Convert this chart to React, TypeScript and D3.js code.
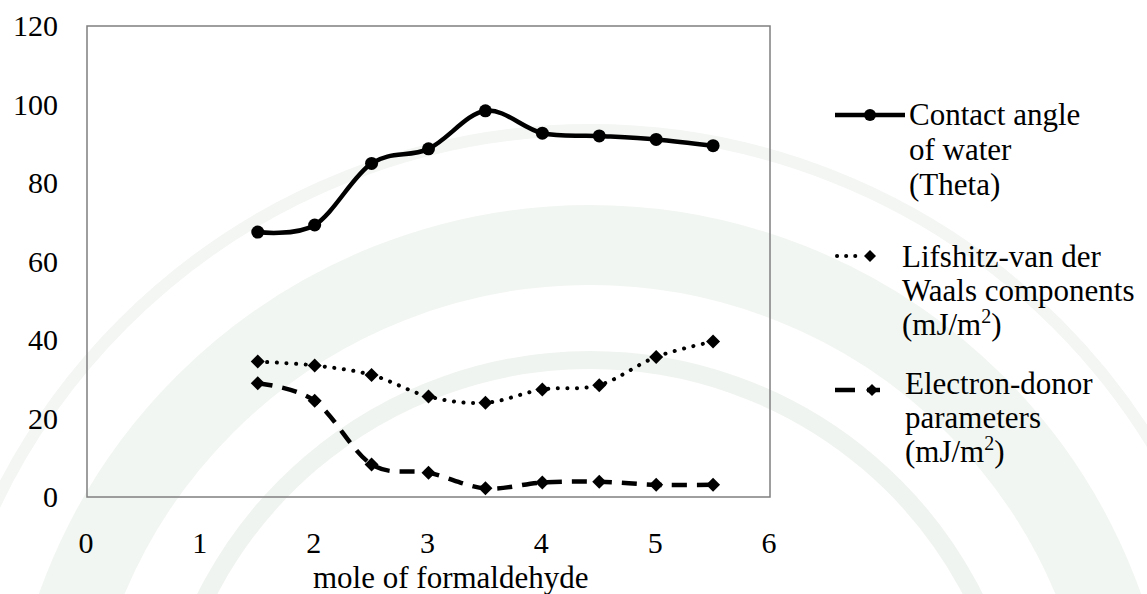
import React from "react";
import * as d3 from "d3";

const xValues = [1.5, 2, 2.5, 3, 3.5, 4, 4.5, 5, 5.5];
const contactAngle = [67.5, 69.3, 85.0, 88.7, 98.4, 92.7, 92.0, 91.1, 89.5];
const lifshitz = [34.5, 33.5, 31.1, 25.6, 24.0, 27.4, 28.5, 35.7, 39.6];
const electronDonor = [29.0, 24.5, 8.3, 6.2, 2.2, 3.7, 3.9, 3.1, 3.1];
const xTicks = [0, 1, 2, 3, 4, 5, 6];
const yTicks = [0, 20, 40, 60, 80, 100, 120];
const xTitle = "mole of formaldehyde";
const legend1 = ["Contact angle", "of water", "(Theta)"];
const legend2 = ["Lifshitz-van der", "Waals components"];
const legend3 = ["Electron-donor", "parameters"];

const W = 1147;
const H = 594;
const FONT = "'Liberation Serif', 'Times New Roman', Times, serif";
const txt = { fontFamily: FONT } as React.CSSProperties;

export default function App() {
  const x = d3.scaleLinear().domain([0, 6]).range([87, 770]);
  const y = d3.scaleLinear().domain([0, 120]).range([497, 26]);
  const line = d3
    .line<number>()
    .x((_, i) => x(xValues[i]))
    .y((d) => y(d))
    .curve(d3.curveCardinal.tension(0));

  const diamond = (cx: number, cy: number, r = 7) =>
    `M${cx},${cy - r}L${cx + r},${cy}L${cx},${cy + r}L${cx - r},${cy}Z`;

  const arc = (r: number, a0: number, a1: number) => {
    const p = d3.path();
    p.arc(590, 790, r, Math.PI * a0, Math.PI * a1);
    return p.toString();
  };

  const supLine = (tx: number, ty: number) => (
    <text x={tx} y={ty} fontSize={31} style={txt} fill="#000">
      (mJ/m
      <tspan fontSize={20} dy={-12}>
        2
      </tspan>
      <tspan dy={12}>)</tspan>
    </text>
  );

  return (
    <div style={{ position: "absolute", left: 0, top: 0 }}>
      <svg width={W} height={H} viewBox={`0 0 ${W} ${H}`} style={{ display: "block", background: "#fff" }}>
        {/* faint watermark bands */}
        <path d={arc(545, 1.0, 2.0)} fill="none" stroke="#f2f6f2" strokeWidth={80} />
        <path d={arc(430, 1.05, 1.95)} fill="none" stroke="#f0f4f0" strokeWidth={18} />
        <path d={arc(660, 1.0, 2.0)} fill="none" stroke="#f3f6f3" strokeWidth={12} />

        {/* plot area */}
        <rect x={x(0)} y={y(120)} width={x(6) - x(0)} height={y(0) - y(120)} fill="none" stroke="#7f7f7f" strokeWidth={1.5} />

        {/* y ticks */}
        {yTicks.map((t) => (
          <text key={t} x={58} y={y(t) + 10} textAnchor="end" fontSize={30} style={txt} fill="#000">
            {t}
          </text>
        ))}
        {/* x ticks */}
        {xTicks.map((t) => (
          <text key={t} x={x(t) - 1} y={553} textAnchor="middle" fontSize={30} style={txt} fill="#000">
            {t}
          </text>
        ))}
        <text x={313} y={588} fontSize={31} style={txt} fill="#000">
          {xTitle}
        </text>

        {/* series */}
        <path d={line(electronDonor) || ""} fill="none" stroke="#000" strokeWidth={4.5} strokeDasharray="15,10" />
        {electronDonor.map((v, i) => (
          <path key={i} d={diamond(x(xValues[i]), y(v))} fill="#000" />
        ))}
        <path
          d={line(lifshitz) || ""}
          fill="none"
          stroke="#000"
          strokeWidth={4}
          strokeDasharray="0.1,9.5"
          strokeLinecap="round"
        />
        {lifshitz.map((v, i) => (
          <path key={i} d={diamond(x(xValues[i]), y(v))} fill="#000" />
        ))}
        <path d={line(contactAngle) || ""} fill="none" stroke="#000" strokeWidth={4.5} />
        {contactAngle.map((v, i) => (
          <circle key={i} cx={x(xValues[i])} cy={y(v)} r={6.5} fill="#000" />
        ))}

        {/* legend */}
        <line x1={835} x2={905} y1={115} y2={115} stroke="#000" strokeWidth={4.5} />
        <circle cx={870} cy={115} r={6} fill="#000" />
        {legend1.map((s, i) => (
          <text key={s} x={909} y={125 + i * 35} fontSize={31} style={txt} fill="#000">
            {s}
          </text>
        ))}

        <line x1={837} x2={862} y1={256} y2={256} stroke="#000" strokeWidth={4} strokeDasharray="0.1,9" strokeLinecap="round" />
        <path d={diamond(870, 256, 6)} fill="#000" />
        {legend2.map((s, i) => (
          <text key={s} x={902} y={267 + i * 34} fontSize={31} style={txt} fill="#000">
            {s}
          </text>
        ))}
        {supLine(902, 335)}

        <line x1={835} x2={880} y1={390} y2={390} stroke="#000" strokeWidth={4.5} strokeDasharray="20,12" />
        <path d={diamond(872, 390, 6)} fill="#000" />
        {legend3.map((s, i) => (
          <text key={s} x={905} y={394 + i * 34} fontSize={31} style={txt} fill="#000">
            {s}
          </text>
        ))}
        {supLine(905, 462)}
      </svg>
    </div>
  );
}
